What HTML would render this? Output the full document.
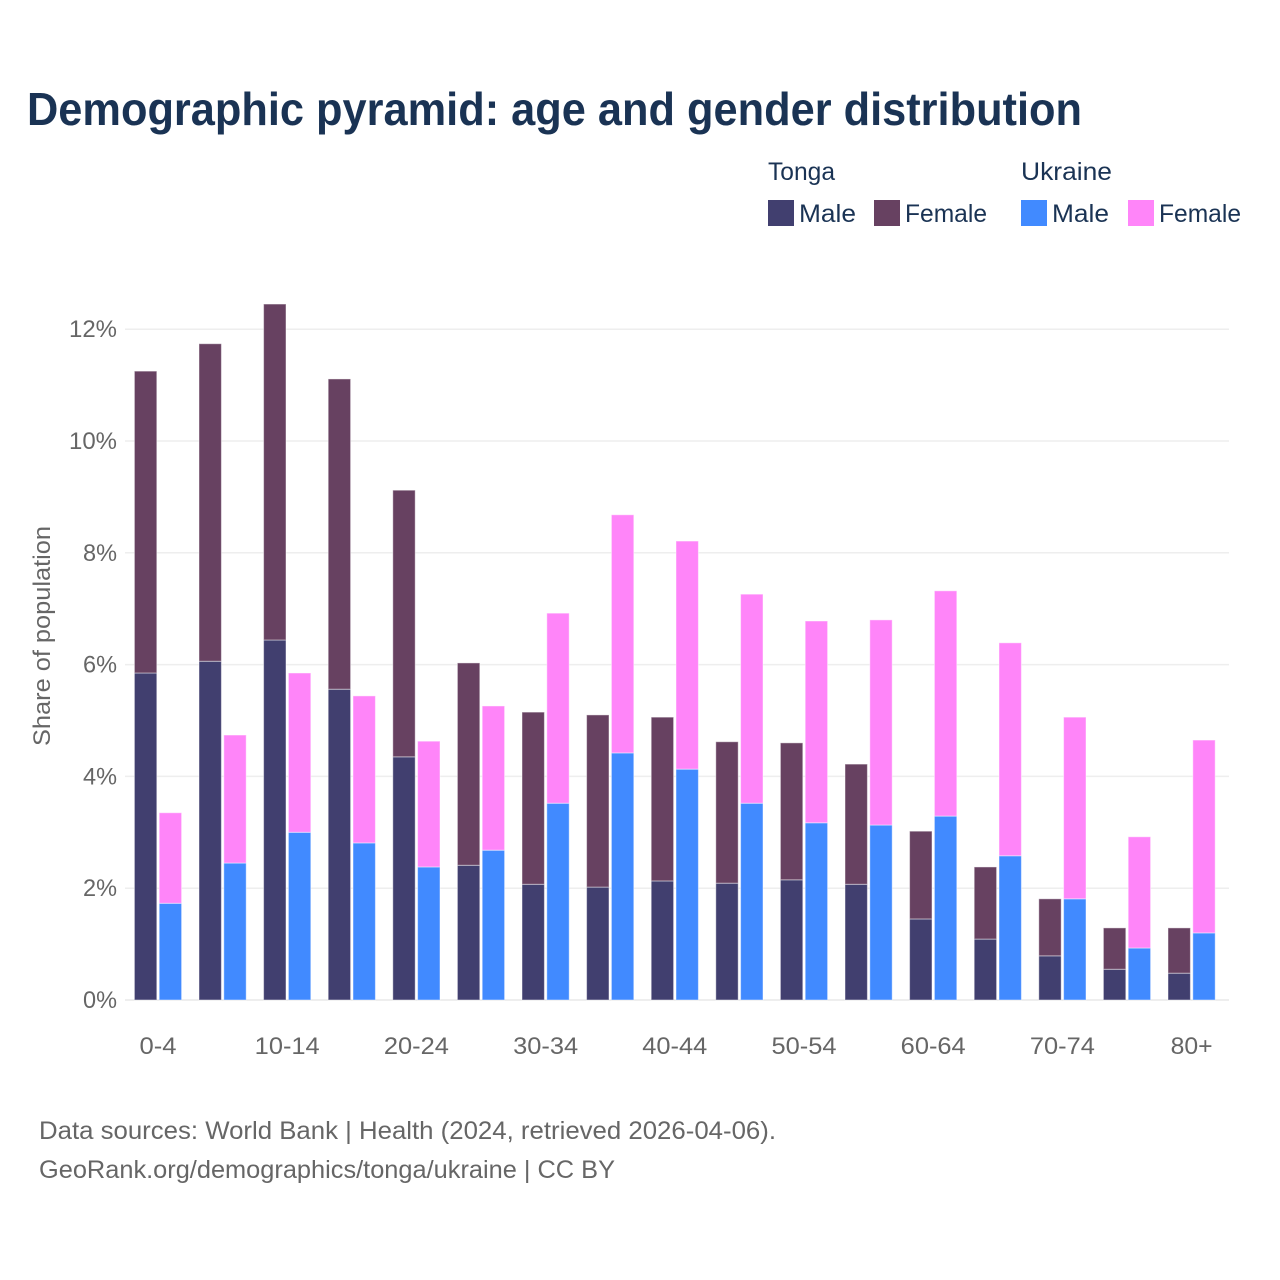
<!DOCTYPE html>
<html lang="en">
<head>
<meta charset="utf-8">
<title>Demographic pyramid: age and gender distribution</title>
<style>
html,body{margin:0;padding:0;background:#fff;width:1280px;height:1280px;overflow:hidden}
svg{display:block}
text{font-family:"Liberation Sans",sans-serif}
</style>
</head>
<body>
<svg id="chart" xmlns="http://www.w3.org/2000/svg" width="1280" height="1280" viewBox="0 0 1280 1280">
  <rect x="0" y="0" width="1280" height="1280" fill="#fff"/>
  <text x="27" y="125" font-size="46" font-weight="700" fill="#1a3354" textLength="1055" lengthAdjust="spacingAndGlyphs">Demographic pyramid: age and gender distribution</text>

  <g font-size="25" fill="#1a3354">
    <text x="768" y="180" textLength="67" lengthAdjust="spacingAndGlyphs">Tonga</text>
    <text x="1021" y="180" textLength="91" lengthAdjust="spacingAndGlyphs">Ukraine</text>
    <rect x="768" y="200" width="26" height="26" fill="#413f6f"/>
    <text x="799" y="222" textLength="57" lengthAdjust="spacingAndGlyphs">Male</text>
    <rect x="874" y="200" width="26" height="26" fill="#674161"/>
    <text x="905" y="222" textLength="82" lengthAdjust="spacingAndGlyphs">Female</text>
    <rect x="1021" y="200" width="26" height="26" fill="#418aff"/>
    <text x="1052" y="222" textLength="57" lengthAdjust="spacingAndGlyphs">Male</text>
    <rect x="1128" y="200" width="26" height="26" fill="#ff85f9"/>
    <text x="1159" y="222" textLength="82" lengthAdjust="spacingAndGlyphs">Female</text>
  </g>

  <g id="grid"></g>
  <g id="bars"></g>
  <g id="yticks"></g>
  <g id="xticks"></g>

  <text transform="translate(50,636) rotate(-90)" text-anchor="middle" font-size="24" fill="#666" textLength="220" lengthAdjust="spacingAndGlyphs">Share of population</text>

  <text x="39" y="1139" font-size="25" fill="#666" textLength="737" lengthAdjust="spacingAndGlyphs">Data sources: World Bank | Health (2024, retrieved 2026-04-06).</text>
  <text x="39" y="1178" font-size="25" fill="#666" textLength="576" lengthAdjust="spacingAndGlyphs">GeoRank.org/demographics/tonga/ukraine | CC BY</text>
</svg>
<script>
const categories = ["0-4","5-9","10-14","15-19","20-24","25-29","30-34","35-39","40-44","45-49","50-54","55-59","60-64","65-69","70-74","75-79","80+"];
const tongaMale = [5.85,6.06,6.44,5.56,4.35,2.41,2.07,2.02,2.13,2.09,2.15,2.07,1.45,1.09,0.79,0.55,0.48];
const tongaFemale = [5.40,5.68,6.01,5.55,4.77,3.62,3.08,3.08,2.93,2.53,2.45,2.15,1.57,1.29,1.02,0.74,0.81];
const ukraineMale = [1.73,2.45,3.00,2.81,2.38,2.68,3.52,4.42,4.13,3.52,3.17,3.13,3.29,2.58,1.81,0.93,1.20];
const ukraineFemale = [1.62,2.29,2.85,2.63,2.25,2.58,3.40,4.26,4.08,3.74,3.61,3.67,4.03,3.81,3.25,1.99,3.45];
const yTickValues = [0,2,4,6,8,10,12];
const xTickLabels = ["0-4","10-14","20-24","30-34","40-44","50-54","60-64","70-74","80+"];

const NS = "http://www.w3.org/2000/svg";
const baselineY = 1000, pxPerUnit = 55.9;
const firstCenter = 158, groupStep = 64.6;
const barWidth = 22.4, barOffset = 1.2;

function yScale(v){ return baselineY - v * pxPerUnit; }
function xScale(i){ return firstCenter + i * groupStep; }

function node(tag, attrs){
  const el = document.createElementNS(NS, tag);
  for (const k in attrs) el.setAttribute(k, attrs[k]);
  return el;
}

const gridG = document.getElementById("grid");
const yG = document.getElementById("yticks");
yTickValues.forEach(function(v){
  const line = node("line", {x1:125, x2:1229, y1:yScale(v), y2:yScale(v), stroke:"#eeeeee", "stroke-width":v===0?2:1.5});
  
  
  gridG.appendChild(line);
  const t = node("text", {x:117, y:yScale(v)+8, "text-anchor":"end", "font-size":24, fill:"#666",
    textLength:v>=10?48:34, lengthAdjust:"spacingAndGlyphs"});
  
  
  t.textContent = v + "%";
  yG.appendChild(t);
});

const barsG = document.getElementById("bars");
function drawStack(values, base, xLeft, color, name){
  values.forEach(function(v, i){
    const b = base ? base[i] : 0;
    const x = xScale(i) + xLeft;
    const r = node("rect", {x:x, y:yScale(b+v), width:barWidth, height:v*pxPerUnit, fill:color,
      stroke:"rgba(255,255,255,0.45)", "stroke-width":1});
    
    
    barsG.appendChild(r);
  });
}
drawStack(tongaMale, null, -barWidth - barOffset, "#413f6f", "bar-tonga-male");
drawStack(tongaFemale, tongaMale, -barWidth - barOffset, "#674161", "bar-tonga-female");
drawStack(ukraineMale, null, barOffset, "#418aff", "bar-ukraine-male");
drawStack(ukraineFemale, ukraineMale, barOffset, "#ff85f9", "bar-ukraine-female");

const xG = document.getElementById("xticks");
xTickLabels.forEach(function(label){
  const i = categories.indexOf(label);
  const w = label.length === 5 ? 65 : (label === "0-4" ? 37 : 42);
  const t = node("text", {x:xScale(i), y:1054, "text-anchor":"middle", "font-size":24, fill:"#666",
    textLength:w, lengthAdjust:"spacingAndGlyphs"});
  
  
  t.textContent = label;
  xG.appendChild(t);
});
</script>
</body>
</html>
